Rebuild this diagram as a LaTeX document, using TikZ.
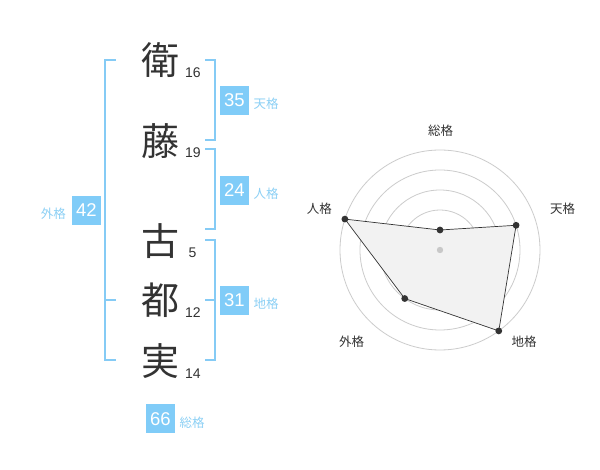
\documentclass[tikz,border=0pt]{standalone}
\usepackage{fontspec}
\setmainfont{Liberation Sans}
\newfontfamily\jp{Noto Sans CJK JP}
\usetikzlibrary{calc}
\definecolor{brk}{HTML}{85CBF5}
\definecolor{boxc}{HTML}{80CCF8}
\definecolor{lblc}{HTML}{8CD0F5}
\definecolor{ink}{HTML}{333333}
\definecolor{gridc}{HTML}{CCCCCC}
\definecolor{polyfill}{HTML}{F2F2F2}
\definecolor{cdot}{HTML}{C8C8C8}
\tikzset{
  kanji/.style={font=\jp\fontsize{38}{38}\selectfont, text=ink, inner sep=0pt},
  strokes/.style={font=\fontsize{14}{14}\selectfont, text=ink, inner sep=0pt, anchor=west},
  scorebox/.style={fill=boxc, text=white, minimum width=29pt, minimum height=29pt, inner sep=0pt, font=\fontsize{18.5}{18.5}\selectfont},
  scorelbl/.style={font=\jp\fontsize{12.5}{12.5}\selectfont, text=lblc, inner sep=0pt},
  bracket/.style={draw=brk, line width=2pt},
  radarlbl/.style={font=\jp\fontsize{12.5}{12.5}\selectfont, text=ink, inner sep=0pt},
  gridline/.style={draw=gridc, line width=0.8pt},
  datadot/.style={fill=ink},
}
\begin{document}
\begin{tikzpicture}[x=1pt,y=-1pt]
\useasboundingbox[fill=white] (0,0) rectangle (600,470);
% brackets
\draw[bracket] (205,60) -- (214.5,60) -- (214.5,140) -- (205,140);
\draw[bracket] (205,149.5) -- (214.5,149.5) -- (214.5,229.5) -- (205,229.5);
\draw[bracket] (205,240) -- (214.5,240) -- (214.5,360) -- (205,360);
\draw[bracket] (205,300) -- (214.5,300);
\draw[bracket] (115.5,60) -- (105,60) -- (105,360) -- (115.5,360);
\draw[bracket] (105,300) -- (115.5,300);
% kanji
\node[kanji] (k1) at (160,60) {衛};
\node[kanji] (k2) at (160,141) {藤};
\node[kanji] (k3) at (160,241) {古};
\node[kanji] (k4) at (160,300) {都};
\node[kanji] (k5) at (160,361) {実};
\node[strokes] (s1) at (185,72.7) {16};
\node[strokes] (s2) at (185,152.7) {19};
\node[strokes] (s3) at (188.5,252.3) {5};
\node[strokes] (s4) at (185,312.7) {12};
\node[strokes] (s5) at (185,373.3) {14};
% scores
\node[scorebox] (b1) at (234.5,100.5) {35};
\node[scorelbl] (l1) at (266,103.5) {天格};
\node[scorebox] (b2) at (234.5,190.5) {24};
\node[scorelbl] (l2) at (266,193.5) {人格};
\node[scorebox] (b3) at (234.5,300.5) {31};
\node[scorelbl] (l3) at (266,303.5) {地格};
\node[scorebox] (b4) at (86.3,210.3) {42};
\node[scorelbl] (l4) at (53.3,213.3) {外格};
\node[scorebox] (b5) at (160.3,418.8) {66};
\node[scorelbl] (l5) at (192,422.3) {総格};
% radar
\coordinate (rc) at (440,250);
\foreach \r in {20,40,60,80,100} \draw[gridline] (rc) circle[radius=\r pt];
\coordinate (p1) at ($(rc)+(90:20pt)$);
\coordinate (p2) at ($(rc)+(18:80pt)$);
\coordinate (p3) at ($(rc)+(-54:100pt)$);
\coordinate (p4) at ($(rc)+(-126:60pt)$);
\coordinate (p5) at ($(rc)+(162:100pt)$);
\fill[polyfill] (p1) -- (p2) -- (p3) -- (p4) -- (p5) -- cycle;
\draw[ink, line width=0.7pt] (p1) -- (p2) -- (p3) -- (p4) -- (p5) -- cycle;
\fill[cdot] (rc) circle[radius=3.2pt];
\foreach \p in {p1,p2,p3,p4,p5} \fill[datadot] (\p) circle[radius=3.4pt];
\node[radarlbl] (r1) at (440.7,130.7) {総格};
\node[radarlbl] (r2) at (562.7,208.3) {天格};
\node[radarlbl] (r3) at (524,341.7) {地格};
\node[radarlbl] (r4) at (351.7,341.7) {外格};
\node[radarlbl] (r5) at (319.3,209) {人格};
\end{tikzpicture}
\end{document}
